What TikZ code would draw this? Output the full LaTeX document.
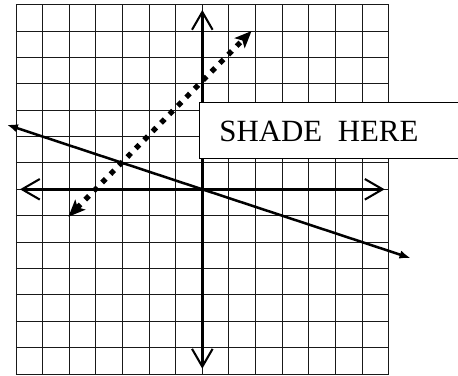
\documentclass[tikz,border=0pt]{standalone}
\usepackage{fontspec}
\setmainfont{Liberation Serif}
\usetikzlibrary{arrows.meta}
\begin{document}
\begin{tikzpicture}[x=1cm,y=0.991cm,
  gridline/.style={line width=1pt, black!90},
  axisline/.style={line width=3pt,
    {Straight Barb[length=19pt,width=22pt,line width=2.2pt]}-{Straight Barb[length=19pt,width=22pt,line width=2.2pt]}},
  solidline/.style={line width=2.7pt, {Latex[length=12pt,width=9pt]}-{Latex[length=12pt,width=9pt]}},
  dotline/.style={line width=5.6pt, line cap=butt, dash pattern=on 5.6pt off 7.2pt,
    {Stealth[length=18pt,width=15pt,inset=4pt]}-{Stealth[length=18pt,width=15pt,inset=4pt]}},
  boxstyle/.style={draw=black, line width=0.9pt, fill=white},
  labelstyle/.style={font=\fontsize{33}{36}\selectfont, inner sep=0pt}]
\useasboundingbox (-7.6,-7.077) rectangle (9.605,7.176);
\foreach \i in {-7,...,7} {
  \draw[gridline] (\i,-7) -- (\i,7);
  \draw[gridline] (-7,\i) -- (7,\i);
}
\coordinate (xl) at (-6.85,0);
\coordinate (xr) at (6.85,0);
\coordinate (yb) at (0,-6.8);
\coordinate (yt) at (0,6.8);
\coordinate (sl) at (-7.35,2.45);
\coordinate (sr) at (7.83,-2.61);
\coordinate (dl) at (-5.03,-1.04);
\coordinate (du) at (1.85,6.0);
\draw[axisline] (xl) -- (xr);
\draw[axisline] (yb) -- (yt);
\draw[solidline] (sl) -- (sr);
\draw[dotline] (dl) -- (du);
\node[boxstyle, anchor=south west, minimum width=10cm, minimum height=2.1cm, inner sep=0pt] (shadebox) at (-0.11,1.14) {};
\node[labelstyle] (shade) at (4.38,2.18) {SHADE\ \ HERE};
\end{tikzpicture}
\end{document}
